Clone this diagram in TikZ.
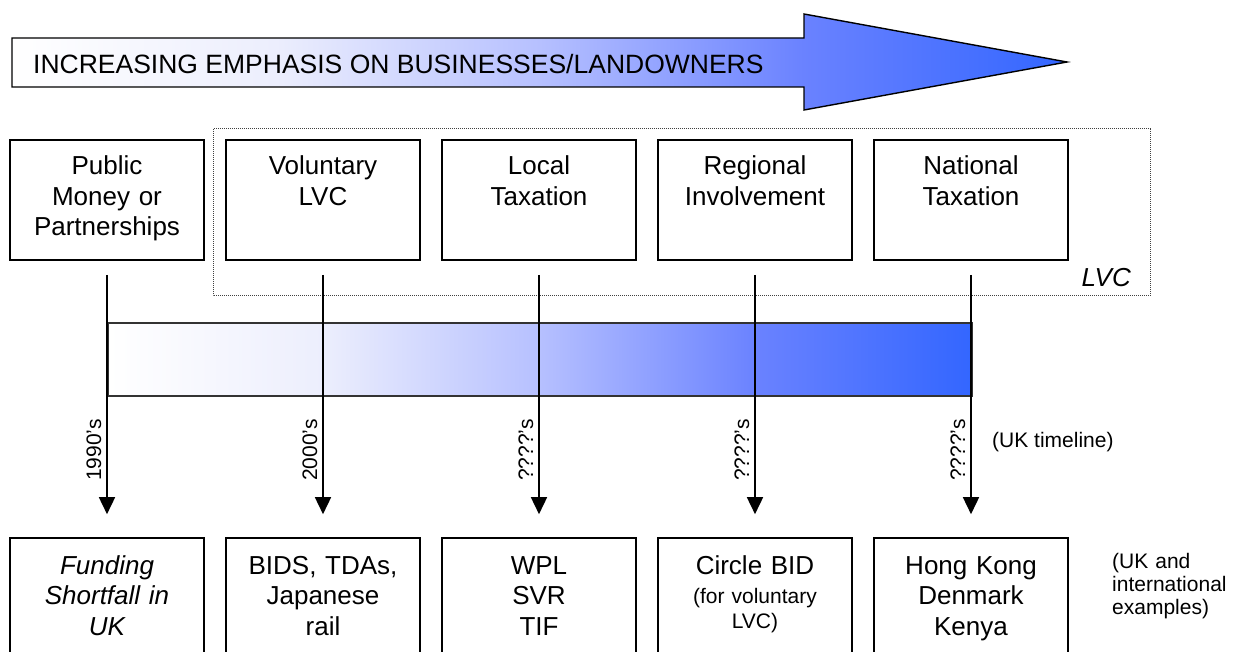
\documentclass[tikz,border=0pt]{standalone}
\usepackage{fontspec}
\setmainfont{Liberation Sans}
\usetikzlibrary{arrows.meta}
\definecolor{sA}{RGB}{236,238,253}
\definecolor{sB}{RGB}{182,192,255}
\definecolor{sC}{RGB}{106,130,255}
\definecolor{sD}{RGB}{51,102,255}
\pgfdeclarehorizontalshading{lvcshade}{100bp}{color(0bp)=(white); color(25bp)=(white); color(37.5bp)=(sA); color(50bp)=(sB); color(62.5bp)=(sC); color(75bp)=(sD); color(100bp)=(sD)}
\begin{document}
\begin{tikzpicture}[x=1pt,y=-1pt,
  stage/.style={draw=black, line width=1.6pt, minimum width=194pt, minimum height=120pt, inner sep=0pt},
  example/.style={draw=black, line width=1.6pt, minimum width=194pt, minimum height=130pt, inner sep=0pt},
  lbl/.style={font=\fontsize{26}{30.5}\selectfont, text width=190pt, align=center, anchor=base, inner sep=0pt},
  smalllbl/.style={font=\fontsize{21}{25}\selectfont, text width=190pt, align=center, anchor=base, inner sep=0pt},
  link/.style={line width=1.6pt, -{Triangle[length=17pt,width=16pt]}, shorten <=14pt, shorten >=23pt},
  yr/.style={font=\fontsize{21}{25}\selectfont, rotate=90, anchor=base east, inner sep=0pt},
  note/.style={font=\fontsize{21}{23}\selectfont, anchor=base west, inner sep=0pt}]
\clip (0,0) rectangle (1240,652);
% big arrow
\shade[shading=lvcshade, draw=black, line width=1.4pt]
  (12,38) -- (804,38) -- (804,14) -- (1067,62) -- (804,110) -- (804,87) -- (12,87) -- cycle;
\node[anchor=base west, inner sep=0pt, font=\fontsize{26.5}{30}\selectfont] (title) at (33,74) {INCREASING EMPHASIS ON BUSINESSES/LANDOWNERS};
% LVC dotted region
\draw[draw=black!75, line width=1pt, dash pattern=on 1pt off 1pt] (213,129) rectangle (1150,296);
\node[font=\fontsize{26}{30}\selectfont\itshape, anchor=base east, inner sep=0pt] (lvc) at (1131,287) {LVC};
% top boxes
\node[stage] (t1) at (107,200) {};
\node[stage] (t2) at (323,200) {};
\node[stage] (t3) at (539,200) {};
\node[stage] (t4) at (755,200) {};
\node[stage] (t5) at (971,200) {};
\node[lbl] (t1l) at (107,175) {Public\\Money or\\Partnerships};
\node[lbl] (t2l) at (323,175) {Voluntary\\LVC};
\node[lbl] (t3l) at (539,175) {Local\\Taxation};
\node[lbl] (t4l) at (755,175) {Regional\\Involvement};
\node[lbl] (t5l) at (971,175) {National\\Taxation};
% bottom boxes
\node[example] (b1) at (107,603) {};
\node[example] (b2) at (323,603) {};
\node[example] (b3) at (539,603) {};
\node[example] (b4) at (755,603) {};
\node[example] (b5) at (971,603) {};
\node[lbl, font=\fontsize{26}{30.5}\selectfont\itshape] (b1l) at (107,574) {Funding\\Shortfall in\\UK};
\node[lbl] (b2l) at (323,574) {BIDS, TDAs,\\Japanese\\rail};
\node[lbl] (b3l) at (539,574) {WPL\\SVR\\TIF};
\node[lbl] (b4l) at (755,574) {Circle BID};
\node[smalllbl] (b4s) at (755,603) {(for voluntary\\LVC)};
\node[lbl] (b5l) at (971,574) {Hong Kong\\Denmark\\Kenya};
% timeline bar
\shade[shading=lvcshade, draw=black!80, line width=1.4pt] (108,323) rectangle (972,396);
% connectors
\draw[link] (t1) -- (b1);
\draw[link] (t2) -- (b2);
\draw[link] (t3) -- (b3);
\draw[link] (t4) -- (b4);
\draw[link] (t5) -- (b5);
% year labels
\node[yr] (y1) at (101,419) {1990's};
\node[yr] (y2) at (317,419) {2000's};
\node[yr] (y3) at (533,419) {????'s};
\node[yr] (y4) at (749,419) {????'s};
\node[yr] (y5) at (965,419) {????'s};
\node[note] (uk) at (992,447) {(UK timeline)};
\node[note, text width=125pt, align=left] (intl) at (1112,568) {(UK and\\international\\examples)};
\end{tikzpicture}
\end{document}
